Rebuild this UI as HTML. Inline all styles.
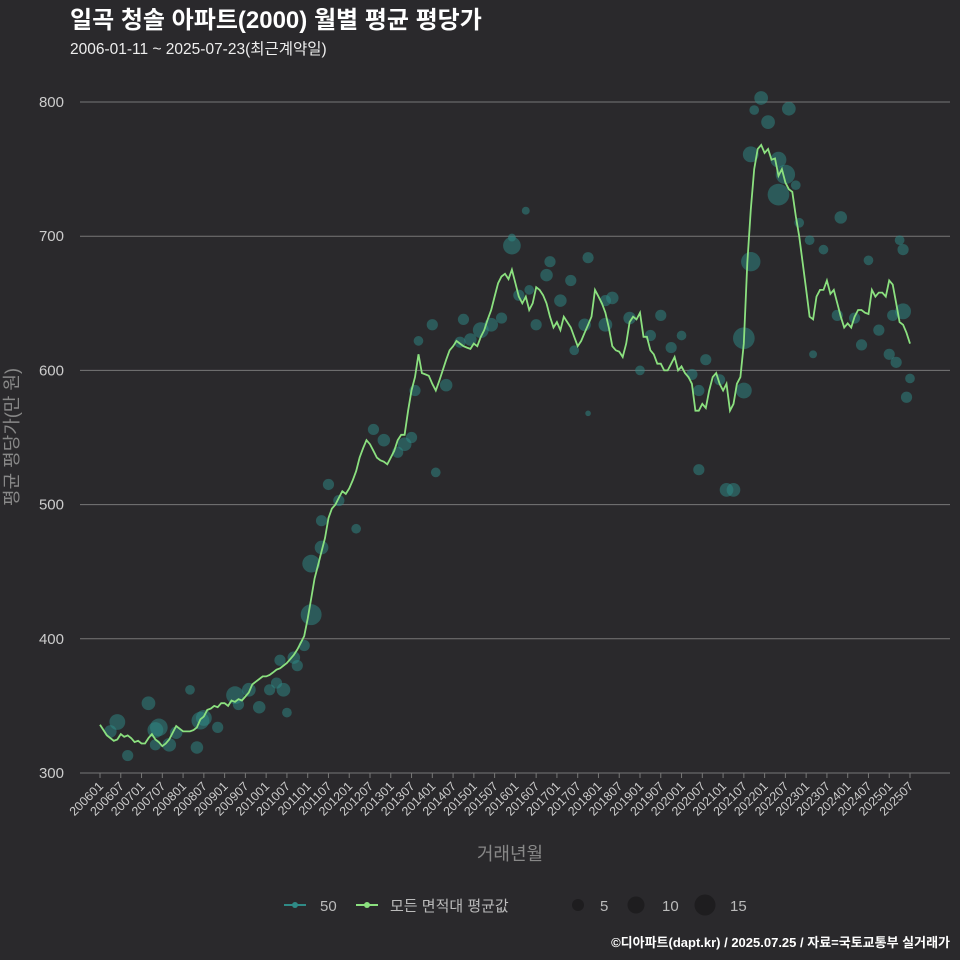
<!DOCTYPE html>
<html><head><meta charset="utf-8"><style>
body{margin:0;background:#2a292c;}
svg{display:block;font-family:"Liberation Sans","Noto Sans CJK KR",sans-serif;}
</style></head><body>
<svg id="chart" width="960" height="960">
<rect width="960" height="960" fill="#2a292c"/>
<text x="70" y="28" fill="#fff" font-size="24" font-weight="bold">일곡 청솔 아파트(2000) 월별 평균 평당가</text>
<text x="70" y="54" fill="#eee" font-size="15.5">2006-01-11 ~ 2025-07-23(최근계약일)</text>
<g id="grid"></g>
<g id="bubbles"></g>
<g id="line"></g>
<g id="xaxis"></g>
<text x="18" y="437" fill="#888" font-size="18" text-anchor="middle" transform="rotate(-90 18 437)">평균 평당가(만 원)</text>
<text x="510" y="860" fill="#888" font-size="18" text-anchor="middle">거래년월</text>
<g>
<g><line x1="284" y1="905" x2="306" y2="905" stroke="#2f8a86" stroke-width="2"/><circle cx="295" cy="905" r="3" fill="#2f8a86"/><text x="320" y="911" fill="#bbb" font-size="15">50</text></g>
<g><line x1="356" y1="905" x2="378" y2="905" stroke="#8be07f" stroke-width="2"/><circle cx="367" cy="905" r="3" fill="#8be07f"/><text x="390" y="911" fill="#bbb" font-size="15">모든 면적대 평균값</text></g>
<g><circle cx="578" cy="905" r="6" fill="#1e1d1f"/><text x="600" y="911" fill="#bbb" font-size="15">5</text></g>
<g><circle cx="636" cy="905" r="8.5" fill="#1e1d1f"/><text x="662" y="911" fill="#bbb" font-size="15">10</text></g>
<g><circle cx="705" cy="905" r="10.5" fill="#1e1d1f"/><text x="730" y="911" fill="#bbb" font-size="15">15</text></g>
</g>
<text x="950" y="947" fill="#fff" font-size="13" font-weight="bold" text-anchor="end">©디아파트(dapt.kr) / 2025.07.25 / 자료=국토교통부 실거래가</text>
</svg>
<script>
const yTicks=[300,400,500,600,700,800];
const avgLine=[
336,332,328,326,324,325,329,327,328,326,323,324,
322,322,326,329,325,323,320,322,325,330,335,333,
331,331,331,332,334,340,342,347,348,350,349,352,
352,350,354,353,355,354,357,360,366,368,370,372,
372,373,375,377,378,380,382,385,388,392,397,402,
415,430,445,455,465,475,490,497,500,505,510,508,
512,518,525,535,542,548,545,540,535,533,532,530,
535,540,548,552,552,570,585,595,612,598,597,596,
590,585,592,600,608,615,618,622,620,618,617,616,
620,618,625,630,638,645,655,665,670,672,668,675,
665,655,650,655,645,650,662,660,656,650,640,632,
636,630,640,636,632,625,618,622,628,634,640,660,
655,650,643,632,618,615,614,610,620,636,640,638,
643,625,625,615,612,605,605,600,600,605,610,600,
603,598,595,590,570,570,575,572,585,595,598,590,
585,590,570,575,590,595,620,680,720,750,765,768,
762,765,757,758,745,750,740,735,733,715,700,680,
660,640,638,655,660,660,667,657,660,650,640,632,
635,632,640,645,645,643,642,660,655,658,658,655,
667,664,650,636,634,628,620];
const bubbleMonth=[5,3,8,14,16,17,16,22,20,26,29,30,28,34,39,43,40,46,49,51,54,53,52,56,57,59,61,64,61,64,66,69,74,79,82,86,88,90,92,91,97,96,100,105,104,107,110,113,116,119,119,123,121,124,126,129,130,133,136,137,140,141,141,146,146,148,153,156,159,162,165,168,171,173,175,173,179,181,183,186,186,188,188,189,191,193,196,198,196,199,201,202,205,206,209,214,213,218,220,222,225,228,229,230,232,231,234,233,232];
const bubbleValue=[338,331,313,352,332,334,321,330,321,362,339,341,319,334,358,362,351,349,362,367,345,362,384,386,380,395,456,488,418,468,515,503,482,556,548,539,545,550,622,585,524,634,589,638,621,623,630,634,639,699,693,719,656,660,634,671,681,652,667,615,634,568,684,652,634,654,639,600,626,641,617,626,597,585,608,526,593,511,511,624,585,681,761,794,803,785,757,746,731,795,738,710,697,612,690,714,641,639,619,682,630,612,641,606,690,697,594,580,644];
const bubbleCount=[8,5,4,6,8,10,4,5,6,3,10,8,5,4,10,6,4,5,4,4,3,6,4,5,4,4,10,4,14,6,4,4,3,4,5,4,6,4,3,4,3,4,5,4,4,5,8,6,4,2,10,2,4,3,4,5,4,5,4,3,5,1,4,4,6,5,5,3,4,4,4,3,4,4,4,4,4,6,6,15,8,12,8,3,6,6,8,12,15,6,3,3,3,2,3,5,4,4,4,3,4,4,4,4,4,3,3,4,8];
const svg=document.getElementById('chart');
const NS='http://www.w3.org/2000/svg';
const X0=100,X1=910,N=234;
const xs=m=>X0+m*(X1-X0)/N;
const ys=v=>773-(v-300)*(671/500);
function mk(t,a,p){const e=document.createElementNS(NS,t);for(const k in a)e.setAttribute(k,a[k]);p.appendChild(e);return e;}
const grid=document.getElementById('grid');
yTicks.forEach(v=>{
 const l=mk('line',{x1:80,x2:950,y1:ys(v),y2:ys(v),stroke:'#777','stroke-width':1},grid);
 
 
 const t=mk('text',{x:64,y:ys(v)+5,fill:'#ccc','font-size':15,'text-anchor':'end'},grid);
 t.textContent=v;
 
 
});
const xa=document.getElementById('xaxis');
for(let m=0;m<=N;m+=6){
 const yr=2006+Math.floor(m/12),mo=m%12+1;
 const lab=yr+(mo<10?'0':'')+mo;
 const x=xs(m);
 const tk=mk('line',{x1:x,x2:x,y1:773,y2:778,stroke:'#777'},xa);
 
 
 const t=mk('text',{x:x+4,y:787,fill:'#ccc','font-size':12.5,'text-anchor':'end',transform:`rotate(-45 ${x+4} 787)`},xa);
 t.textContent=lab;
 
 
}
const bg=document.getElementById('bubbles');
bubbleMonth.forEach((m,i)=>{
 const c=mk('circle',{cx:xs(m),cy:ys(bubbleValue[i]),r:2.8*Math.sqrt(bubbleCount[i]),fill:'rgba(45,140,136,0.5)'},bg);
 
 
});
const lg=document.getElementById('line');
const p=mk('path',{d:avgLine.map((v,i)=>(i?'L':'M')+xs(i).toFixed(1)+','+ys(v).toFixed(1)).join(''),fill:'none',stroke:'#8be07f','stroke-width':1.8},lg);


</script>
</body></html>
